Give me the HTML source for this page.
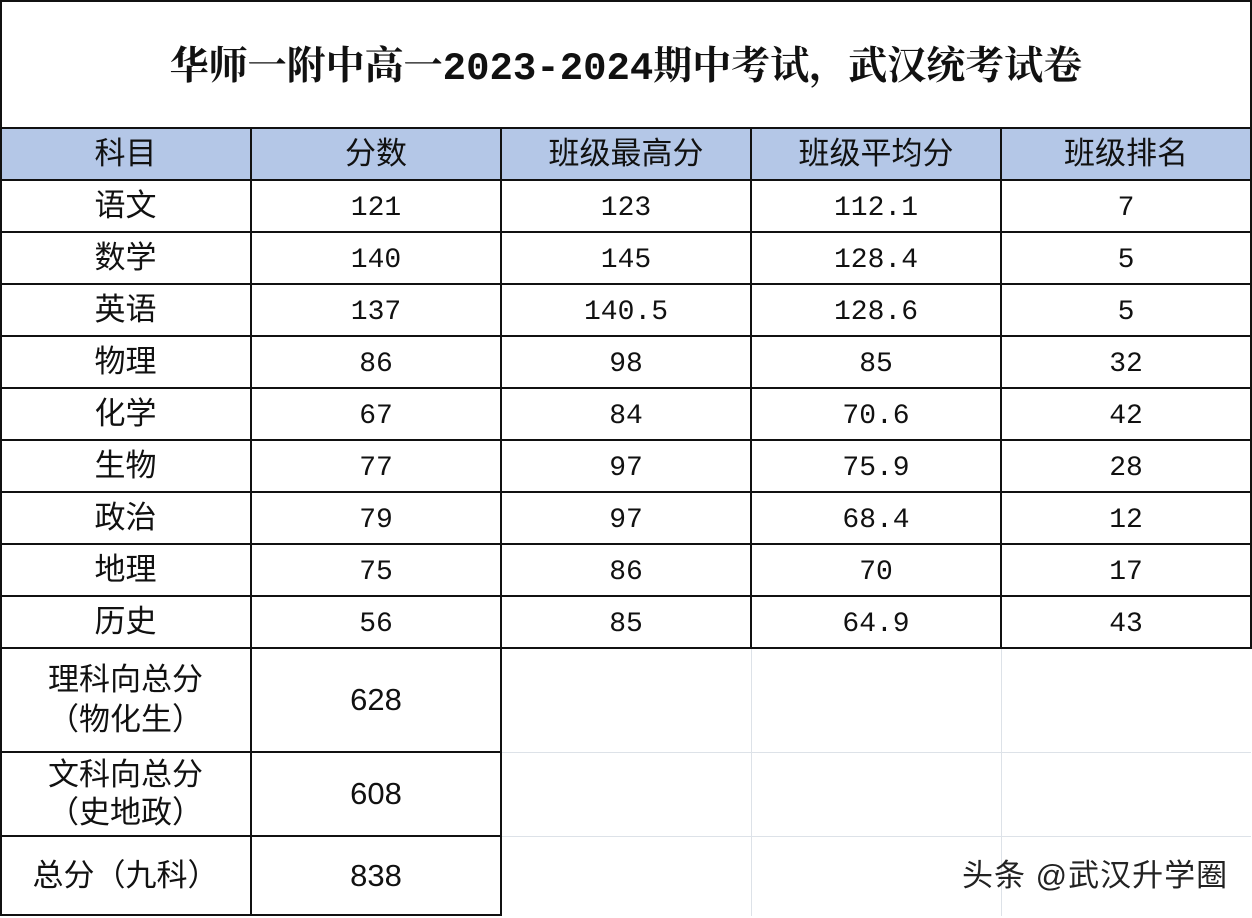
<!DOCTYPE html>
<html><head><meta charset="utf-8"><style>
body{margin:0;width:1252px;height:918px;background:#fff;position:relative;overflow:hidden;font-family:"Liberation Sans","Noto Sans CJK SC",sans-serif;color:#111}
.c{position:absolute;box-sizing:border-box;display:flex;align-items:center;justify-content:center;text-align:center;font-size:31px;line-height:38px}
.h{position:absolute;background:#111;height:2px}
.v{position:absolute;background:#111;width:2px}
.n{font-family:"Liberation Mono","Noto Sans CJK SC",monospace;font-size:28px;padding-top:5px}
</style></head><body>
<div style="position:absolute;left:0;top:128px;width:1252px;height:52px;background:#b4c7e7"></div>
<div class="c" style="left:0;top:0;width:1252px;height:138px;font-weight:bold;font-size:39px;font-family:'Liberation Mono','Noto Serif CJK SC',serif">华师一附中高一2023-2024期中考试，武汉统考试卷</div>
<div style="position:absolute;left:501px;top:752px;width:750px;height:1px;background:#dde2e8"></div>
<div style="position:absolute;left:501px;top:836px;width:750px;height:1px;background:#dde2e8"></div>
<div style="position:absolute;left:751px;top:648px;width:1px;height:268px;background:#dde2e8"></div>
<div style="position:absolute;left:1001px;top:648px;width:1px;height:268px;background:#dde2e8"></div>
<div class="h" style="left:0;top:0;width:1252px"></div>
<div class="h" style="left:0;top:127px;width:1252px"></div>
<div class="h" style="left:0;top:179px;width:1252px"></div>
<div class="h" style="left:0;top:231px;width:1252px"></div>
<div class="h" style="left:0;top:283px;width:1252px"></div>
<div class="h" style="left:0;top:335px;width:1252px"></div>
<div class="h" style="left:0;top:387px;width:1252px"></div>
<div class="h" style="left:0;top:439px;width:1252px"></div>
<div class="h" style="left:0;top:491px;width:1252px"></div>
<div class="h" style="left:0;top:543px;width:1252px"></div>
<div class="h" style="left:0;top:595px;width:1252px"></div>
<div class="h" style="left:0;top:647px;width:1252px"></div>
<div class="h" style="left:0;top:751px;width:502px"></div>
<div class="h" style="left:0;top:835px;width:502px"></div>
<div class="h" style="left:0;top:914px;width:502px"></div>
<div class="v" style="left:0;top:0;height:916px"></div>
<div class="v" style="left:1250px;top:0;height:648px"></div>
<div class="v" style="left:250px;top:128px;height:788px"></div>
<div class="v" style="left:500px;top:128px;height:788px"></div>
<div class="v" style="left:750px;top:128px;height:520px"></div>
<div class="v" style="left:1000px;top:128px;height:520px"></div>
<div class="c" style="left:0;top:128px;width:251px;height:52px">科目</div>
<div class="c" style="left:251px;top:128px;width:250px;height:52px">分数</div>
<div class="c" style="left:501px;top:128px;width:250px;height:52px">班级最高分</div>
<div class="c" style="left:751px;top:128px;width:250px;height:52px">班级平均分</div>
<div class="c" style="left:1001px;top:128px;width:250px;height:52px">班级排名</div>
<div id="rows"></div>
<script>
var d=[["语文","121","123","112.1","7"],["数学","140","145","128.4","5"],["英语","137","140.5","128.6","5"],["物理","86","98","85","32"],["化学","67","84","70.6","42"],["生物","77","97","75.9","28"],["政治","79","97","68.4","12"],["地理","75","86","70","17"],["历史","56","85","64.9","43"]];
var h="";var xs=[0,251,501,751,1001];var ws=[251,250,250,250,250];
d.forEach(function(r,i){var y=180+i*52;r.forEach(function(t,j){h+='<div class="c'+(j?' n':'')+'" style="left:'+xs[j]+'px;top:'+y+'px;width:'+ws[j]+'px;height:52px">'+t+'</div>';});});
document.getElementById("rows").outerHTML=h;
</script>
<div class="c" style="left:0;top:648px;width:251px;height:104px;line-height:40px">理科向总分<br>（物化生）</div>
<div class="c" style="left:251px;top:648px;width:250px;height:104px">628</div>
<div class="c" style="left:0;top:752px;width:251px;height:84px;line-height:38px">文科向总分<br>（史地政）</div>
<div class="c" style="left:251px;top:752px;width:250px;height:84px">608</div>
<div class="c" style="left:0;top:836px;width:251px;height:80px">总分（九科）</div>
<div class="c" style="left:251px;top:836px;width:250px;height:80px">838</div>
<div style="position:absolute;left:962px;top:855px;font-size:31px;line-height:42px;color:#222;letter-spacing:1px">头条 @武汉升学圈</div>
</body></html>
